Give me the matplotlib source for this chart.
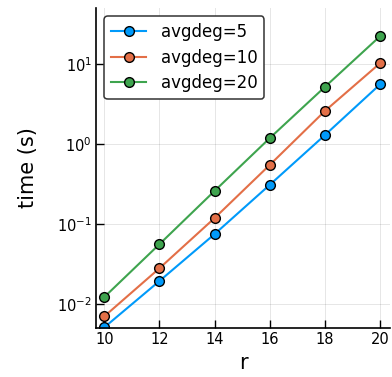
import numpy as np
import matplotlib
matplotlib.use("Agg")
import matplotlib.pyplot as plt
from matplotlib.ticker import FixedLocator, NullLocator, LogFormatterMathtext

# values
r = [10, 12, 14, 16, 18, 20]
time_deg5 = [0.0051, 0.0194, 0.075, 0.31, 1.3, 5.6]
time_deg10 = [0.0070, 0.028, 0.119, 0.55, 2.6, 10.3]
time_deg20 = [0.0122, 0.056, 0.26, 1.19, 5.2, 22.4]
labels = ["avgdeg=5", "avgdeg=10", "avgdeg=20"]
colors = ["#009AFA", "#E36F47", "#3EA44E"]

fig = plt.figure(figsize=(3.92, 3.77), dpi=100)
ax = fig.add_axes([96 / 392, 49 / 377, 294 / 392, 320 / 377])

for ys, lab, c in zip([time_deg5, time_deg10, time_deg20], labels, colors):
    ax.plot(r, ys, color=c, linewidth=1.5, marker="o", markersize=7,
            markerfacecolor=c, markeredgecolor="black", markeredgewidth=1.0,
            label=lab, clip_on=True)

ax.set_yscale("log")
ax.set_xlim(9.7, 20.35)
ax.set_ylim(10 ** -2.3, 10 ** 1.7)
ax.xaxis.set_major_locator(FixedLocator([10, 12, 14, 16, 18, 20]))
ax.yaxis.set_major_locator(FixedLocator([1e-2, 1e-1, 1e0, 1e1]))
ax.yaxis.set_major_formatter(LogFormatterMathtext())
ax.yaxis.set_minor_locator(NullLocator())

for side in ["top", "right"]:
    ax.spines[side].set_visible(False)
for side in ["left", "bottom"]:
    ax.spines[side].set_linewidth(1.2)

ax.grid(True, color="black", alpha=0.1, linewidth=0.7)
ax.tick_params(direction="in", length=6, width=1.0, labelsize=10.5, pad=3)

ax.set_xlabel("r", fontsize=15, labelpad=4)
ax.set_ylabel("time (s)", fontsize=15, labelpad=14)

leg = ax.legend(loc="upper left", fontsize=12, frameon=True, fancybox=True,
                edgecolor="#333333", framealpha=1.0, borderpad=0.42,
                handlelength=2.1, handletextpad=0.85, labelspacing=0.45,
                borderaxespad=0.5)
leg.get_frame().set_linewidth(1.1)

fig.savefig("out.png", dpi=100)
